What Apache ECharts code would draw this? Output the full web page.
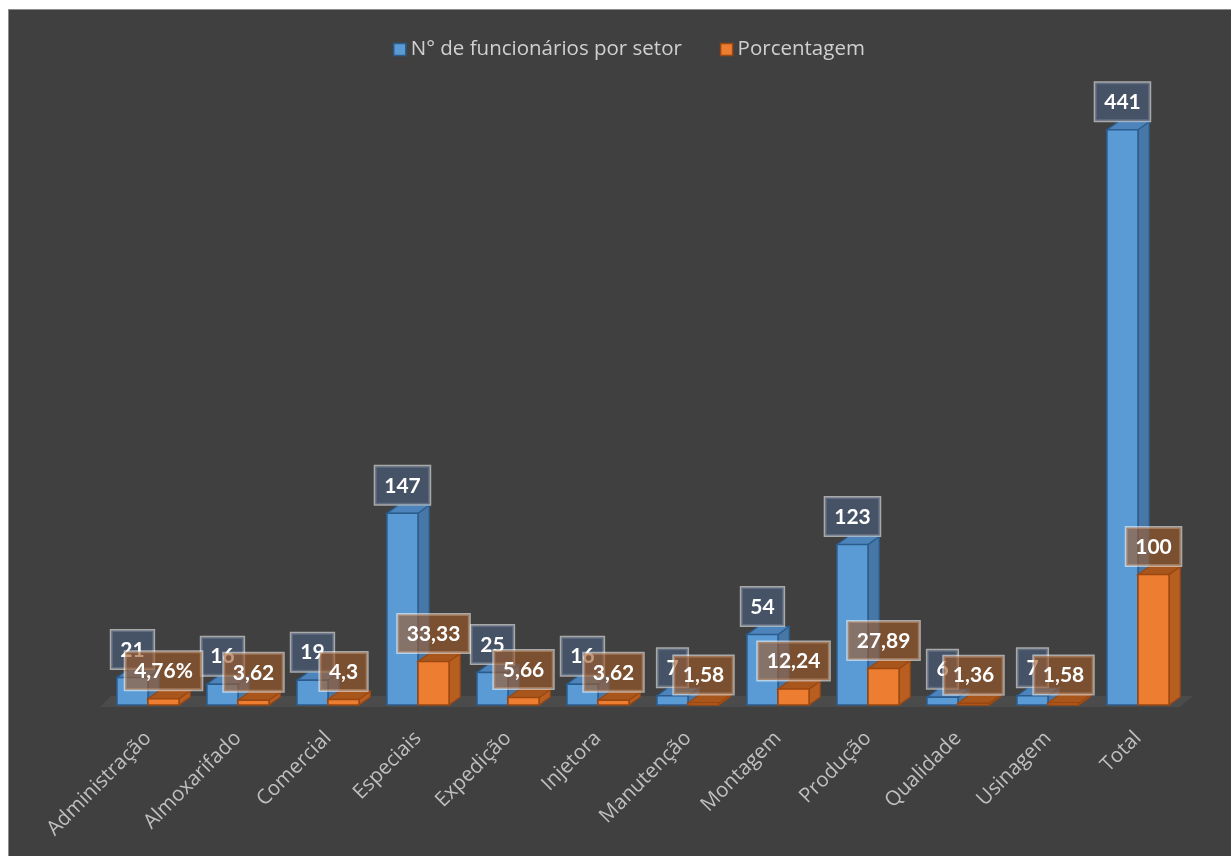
<!DOCTYPE html>
<html>
<head>
<meta charset="utf-8">
<script src="https://cdn.jsdelivr.net/npm/echarts@6/dist/echarts.min.js"></script>
<style>
  html, body { margin: 0; padding: 0; background: #ffffff; width: 1231px; height: 856px; overflow: hidden; }
  #frame { position: absolute; left: 8px; top: 9px; width: 1223px; height: 847px; border-left: 1px solid #8c8c8c; border-top: 1px solid #8c8c8c; background: #404040; }
  #chart { width: 1222px; height: 846px; }
</style>
</head>
<body>
<div id="frame"><div id="chart"></div></div>
<script>
const categories = ['Administração', 'Almoxarifado', 'Comercial', 'Especiais', 'Expedição', 'Injetora', 'Manutenção', 'Montagem', 'Produção', 'Qualidade', 'Usinagem', 'Total'];
const funcionarios = [21, 16, 19, 147, 25, 16, 7, 54, 123, 6, 7, 441];
const porcentagem = [4.76, 3.62, 4.3, 33.33, 5.66, 3.62, 1.58, 12.24, 27.89, 1.36, 1.58, 100];
const funcionariosLabels = ['21', '16', '19', '147', '25', '16', '7', '54', '123', '6', '7', '441'];
const porcentagemLabels = ['4,76%', '3,62', '4,3', '33,33', '5,66', '3,62', '1,58', '12,24', '27,89', '1,36', '1,58', '100'];

const seriesNames = ['N° de funcionários por setor', 'Porcentagem'];
const blue = { front: '#5b9bd5', side: '#4777a6', top: '#4c84bb', stroke: '#2c5c8c' };
const orange = { front: '#ed7d31', side: '#b85e20', top: '#a9561c', stroke: '#9a4711' };

function geom(api, side) {
  const idx = api.value(0), val = api.value(1);
  const base = api.coord([idx, 0]);
  const top = api.coord([idx, val]);
  const band = api.size([1, 0])[0];
  const w = band * 0.345;
  const x0 = side === 0 ? base[0] - w : base[0];
  return { x0: x0, x1: x0 + w, y0: base[1], y1: top[1], w: w, dx: w * 0.36, dy: -w * 0.26 };
}

function makeBar(side, c) {
  return function (params, api) {
    const g = geom(api, side);
    return {
      type: 'group',
      children: [
        { type: 'polygon', shape: { points: [[g.x1, g.y0], [g.x1 + g.dx, g.y0 + g.dy], [g.x1 + g.dx, g.y1 + g.dy], [g.x1, g.y1]] },
          style: { fill: c.side, stroke: c.stroke, lineWidth: 1.2 } },
        { type: 'polygon', shape: { points: [[g.x0, g.y1], [g.x0 + g.dx, g.y1 + g.dy], [g.x1 + g.dx, g.y1 + g.dy], [g.x1, g.y1]] },
          style: { fill: c.top, stroke: c.stroke, lineWidth: 1.2 } },
        { type: 'rect', shape: { x: g.x0, y: g.y1, width: g.w, height: g.y0 - g.y1 },
          style: { fill: c.front, stroke: c.stroke, lineWidth: 1.5 } }
      ]
    };
  };
}

function makeLabel(side, labels, bg) {
  return function (params, api) {
    const g = geom(api, side);
    return {
      type: 'text',
      style: {
        text: labels[api.value(0)],
        x: g.x0 + g.w / 2,
        y: g.y1 - 9,
        align: 'center',
        verticalAlign: 'bottom',
        fill: '#ffffff',
        font: 'bold 21px Lato',
        backgroundColor: bg,
        borderColor: 'rgba(255,255,255,0.55)',
        borderWidth: 1.5,
        padding: [9, 9, 8, 9]
      }
    };
  };
}

function floorItem(params, api) {
  const cs = params.coordSys;
  const yb = cs.y + cs.height;
  return {
    type: 'polygon',
    shape: { points: [[cs.x - 3, yb + 2], [cs.x + cs.width - 3, yb + 2], [cs.x + cs.width + 10, yb - 9], [cs.x + 8, yb - 9]] },
    style: { fill: '#4b4b4b' }
  };
}

const blueData = funcionarios.map((v, i) => [i, v]);
const orangeData = porcentagem.map((v, i) => [i, v]);

const chart = echarts.init(document.getElementById('chart'), null, { renderer: 'canvas' });
chart.setOption({
  backgroundColor: '#404040',
  animation: false,
  legend: {
    data: [
      { name: seriesNames[0], icon: 'rect', itemStyle: { color: blue.front, borderColor: blue.stroke, borderWidth: 1.5 } },
      { name: seriesNames[1], icon: 'rect', itemStyle: { color: orange.front, borderColor: orange.stroke, borderWidth: 1.5 } }
    ],
    left: 379,
    top: 24,
    itemWidth: 12,
    itemHeight: 12,
    itemGap: 38,
    textStyle: { color: '#d0d0d0', fontSize: 20.5, fontFamily: 'Open Sans' }
  },
  grid: { left: 94, right: 48, top: 108, bottom: 151 },
  xAxis: {
    type: 'category',
    data: categories,
    axisLine: { show: false },
    axisTick: { show: false },
    axisLabel: { interval: 0, rotate: 45, color: '#bfbfbf', fontSize: 20.5, fontFamily: 'Open Sans', margin: 30 }
  },
  yAxis: { type: 'value', min: 0, max: 450, show: false, splitLine: { show: false } },
  series: [
    { type: 'custom', name: 'floor', data: [[0, 0]], renderItem: floorItem, silent: true, z: 1 },
    { type: 'custom', name: seriesNames[0], data: blueData, encode: { x: 0, y: 1 }, renderItem: makeBar(0, blue),
      itemStyle: { color: blue.front, borderColor: blue.stroke }, z: 2 },
    { type: 'custom', name: seriesNames[1], data: orangeData, encode: { x: 0, y: 1 }, renderItem: makeBar(1, orange),
      itemStyle: { color: orange.front, borderColor: orange.stroke }, z: 3 },
    { type: 'custom', name: 'lab1', data: blueData, encode: { x: 0, y: 1 }, renderItem: makeLabel(0, funcionariosLabels, 'rgba(72,90,115,0.75)'), z: 4 },
    { type: 'custom', name: 'lab2', data: orangeData, encode: { x: 0, y: 1 }, renderItem: makeLabel(1, porcentagemLabels, 'rgba(160,90,40,0.62)'), z: 5 }
  ]
});
</script>
</body>
</html>
